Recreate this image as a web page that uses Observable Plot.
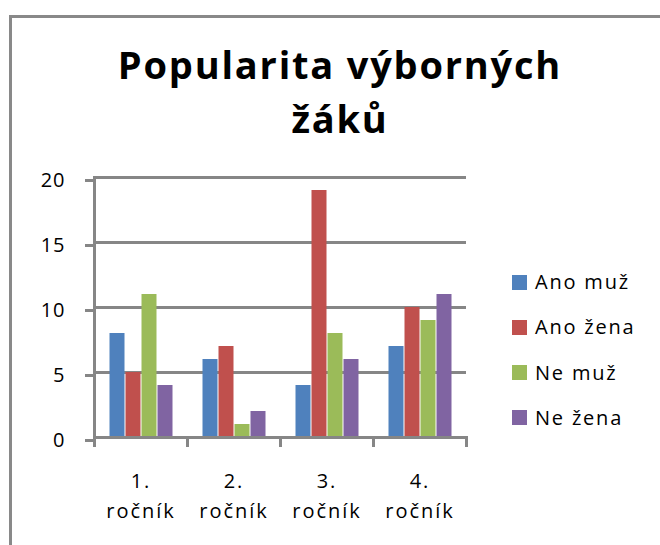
<!DOCTYPE html>
<html>
<head>
<meta charset="utf-8">
<script src="https://cdn.jsdelivr.net/npm/d3@7"></script>
<script src="https://cdn.jsdelivr.net/npm/@observablehq/plot@0.6"></script>
<style>
  html, body { margin: 0; padding: 0; background: white; }
  #wrap { position: relative; width: 660px; height: 545px; overflow: hidden; background: white; font-family: "Open Sans", sans-serif; }
  #frame { position: absolute; left: 9px; top: 15px; width: 800px; height: 800px; border-left: 3px solid #898989; border-top: 3px solid #898989; box-sizing: border-box; pointer-events: none; }
  #title { position: absolute; left: 10px; width: 660px; top: 37px; text-align: center; font-weight: 700; font-size: 38px; line-height: 54px; letter-spacing: 1.8px; color: #000; }
  #chart { position: absolute; left: 0; top: 0; }
  #legend { position: absolute; left: 512px; top: 270px; }
  .row { position: absolute; left: 0; display: flex; align-items: center; height: 24px; white-space: nowrap; }
  .sw { width: 15px; height: 15px; margin-right: 8px; }
  .lab { font-size: 20px; letter-spacing: 1.8px; color: #000; line-height: 24px; }
  g[aria-label="fx-axis tick label"] text { letter-spacing: 2px; }
  g[aria-label="y-axis tick label"] text { letter-spacing: 1px; }
</style>
</head>
<body>
<div id="wrap">
  <div id="chart"></div>
  <div id="title"></div>
  <div id="legend"></div>
  <div id="frame"></div>
</div>
<script>
const titleLines = ["Popularita výborných", "žáků"];
const categories = ["1. ročník", "2. ročník", "3. ročník", "4. ročník"];
const series = ["Ano muž", "Ano žena", "Ne muž", "Ne žena"];
const anoMuz  = [8, 6, 4, 7];
const anoZena = [5, 7, 19, 10];
const neMuz   = [11, 1, 8, 9];
const neZena  = [4, 2, 6, 11];
const colors = ["#4F81BD", "#C0504D", "#9BBB59", "#8064A2"];
const yTicks = [0, 5, 10, 15, 20];

const seriesValues = [anoMuz, anoZena, neMuz, neZena];
const table = categories.flatMap((c, i) =>
  series.map((s, j) => ({cat: c, series: s, value: seriesValues[j][i]}))
);

const grid = "#868686";

const chart = Plot.plot({
  width: 660,
  height: 545,
  marginLeft: 94,
  marginRight: 194,
  marginTop: 177,
  marginBottom: 108,
  style: {background: "transparent", fontFamily: "'Open Sans', sans-serif", overflow: "visible", color: "black"},
  fx: {domain: categories, padding: 0, label: null, axis: null},
  x: {domain: series, paddingInner: 0, paddingOuter: 0.776, axis: null},
  y: {domain: [0, 20], axis: null},
  color: {domain: series, range: colors},
  marks: [
    Plot.gridY(yTicks.slice(1), {stroke: grid, strokeOpacity: 1, strokeWidth: 3}),
    Plot.barY(table, {fx: "cat", x: "series", y: "value", fill: "series", insetLeft: 0.5, insetRight: 0.5}),
    Plot.ruleY([0], {stroke: grid, strokeWidth: 3}),
    Plot.frame({anchor: "left", facetAnchor: "left", stroke: grid, strokeWidth: 3, insetBottom: -8}),
    Plot.frame({anchor: "right", stroke: grid, strokeWidth: 3, insetTop: 260, insetBottom: -8}),
    Plot.axisY(yTicks, {tickSize: 9, tickPadding: 20, stroke: grid, strokeWidth: 3, fill: "black", fontSize: 20, dy: 3, label: null}),
    Plot.axisFx({anchor: "bottom", tickSize: 0, tickPadding: 29, fontSize: 20, lineHeight: 1.5, fill: "black", label: null, tickFormat: d => d.replace(" ", "\n")})
  ]
});
document.getElementById("chart").appendChild(chart);

document.getElementById("title").innerHTML = titleLines.join("<br>");

const legend = document.getElementById("legend");
series.forEach((s, i) => {
  const row = document.createElement("div");
  row.className = "row";
  row.style.top = (i * 45.3) + "px";
  const sw = document.createElement("div");
  sw.className = "sw";
  sw.style.background = colors[i];
  const lab = document.createElement("span");
  lab.className = "lab";
  lab.textContent = s;
  row.appendChild(sw);
  row.appendChild(lab);
  legend.appendChild(row);
});
</script>
</body>
</html>
